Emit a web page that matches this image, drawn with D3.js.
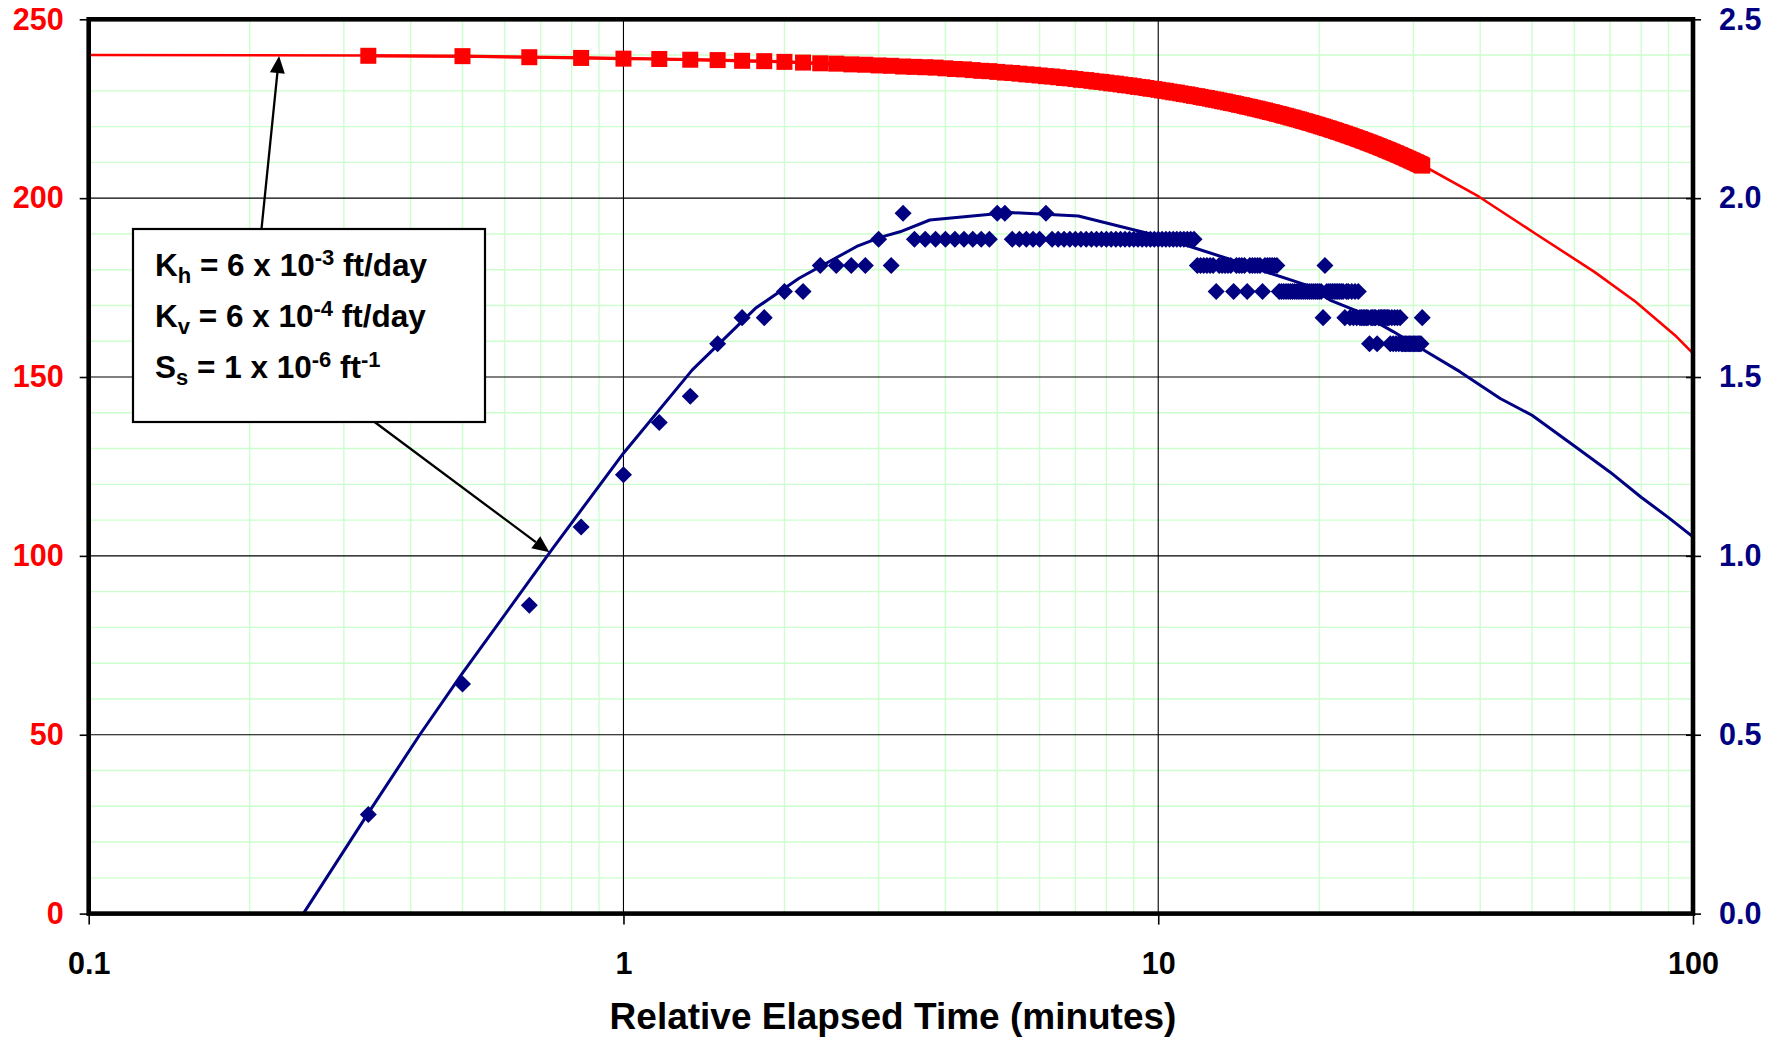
<!DOCTYPE html>
<html><head><meta charset="utf-8">
<script src="https://cdn.jsdelivr.net/npm/d3@7"></script>
<style>
html,body{margin:0;padding:0;background:#fff;}
svg{display:block;font-family:"Liberation Sans",Arial,Helvetica,sans-serif;font-weight:bold;}
</style>
</head><body>
<svg id="chart" width="1784" height="1037"></svg>
<script>
// ---------------- DATA ----------------
// Elapsed time of each measurement (seconds); plotted in minutes
const elapsedSeconds = [
 20,30,40,50,60,70,80,90,100,110,120,130,140,150,160,170,180,190,200,210,
 220,230,240,250,260,270,280,290,300,310,320,330,340,350,360,370,380,390,400,410,
 420,430,440,450,460,470,480,490,500,510,520,530,540,550,560,570,580,590,600,610,
 620,630,640,650,660,670,680,690,700,710,720,730,740,750,760,770,780,790,800,810,
 820,830,840,850,860,870,880,890,900,910,920,930,940,950,960,970,980,990,1000,1010,
 1020,1030,1040,1050,1060,1070,1080,1090,1100,1110,1120,1130,1140,1150,1160,1170,1180,1190,1200,1210,
 1220,1230,1240,1250,1260,1270,1280,1290,1300,1310,1320,1330,1340,1350,1360,1370,1380,1390,1400,1410,
 1420,1430,1440,1450,1460,1470,1480,1490,1500,1510,1520,1530,1540,1550,1560,1570,1580,1590,1600,1610,
 1620,1630,1640,1650,1660,1670,1680,1690,1700,1710,1720,1730,1740,1750,1760,1770,1780,1790,1800,1810,
 1820,1830,1840,1850,1860,1870
];
// Red squares (left axis)
const redSeries = [
 239.8,239.7,239.4,239.2,239.0,238.9,238.7,238.6,238.4,238.3,238.1,237.9,237.7,237.6,237.4,237.3,237.1,237.0,236.8,236.7,
 236.6,236.5,236.3,236.1,236.0,235.8,235.6,235.5,235.3,235.1,235.0,234.8,234.6,234.5,234.3,234.1,234.0,233.8,233.6,233.5,
 233.3,233.1,233.0,232.8,232.6,232.5,232.3,232.1,232.0,231.8,231.6,231.5,231.3,231.1,231.0,230.8,230.6,230.5,230.3,230.1,
 230.0,229.8,229.6,229.5,229.3,229.1,229.0,228.8,228.6,228.5,228.3,228.1,228.0,227.8,227.6,227.5,227.3,227.1,227.0,226.8,
 226.6,226.5,226.3,226.1,226.0,225.8,225.6,225.5,225.3,225.1,225.0,224.8,224.6,224.5,224.3,224.1,224.0,223.8,223.6,223.5,
 223.3,223.1,223.0,222.8,222.6,222.5,222.3,222.1,222.0,221.8,221.6,221.5,221.3,221.1,221.0,220.8,220.6,220.5,220.3,220.1,
 220.0,219.8,219.6,219.5,219.3,219.1,219.0,218.8,218.6,218.5,218.3,218.1,218.0,217.8,217.6,217.5,217.3,217.1,217.0,216.8,
 216.6,216.5,216.3,216.1,216.0,215.8,215.6,215.5,215.3,215.1,215.0,214.8,214.6,214.5,214.3,214.1,214.0,213.8,213.6,213.5,
 213.3,213.1,213.0,212.8,212.6,212.5,212.3,212.1,212.0,211.8,211.6,211.5,211.3,211.1,211.0,210.8,210.6,210.5,210.3,210.1,
 210.0,209.8,209.6,209.5,209.3,209.1
];
// Navy diamonds (right axis)
const blueSeries = [
 0.277,0.642,0.862,1.081,1.227,1.373,1.446,1.593,1.666,1.666,1.739,1.739,1.812,1.812,1.812,1.812,1.885,1.812,1.958,1.885,
 1.885,1.885,1.885,1.885,1.885,1.885,1.885,1.885,1.958,1.958,1.885,1.885,1.885,1.885,1.885,1.958,1.885,1.885,1.885,1.885,
 1.885,1.885,1.885,1.885,1.885,1.885,1.885,1.885,1.885,1.885,1.885,1.885,1.885,1.885,1.885,1.885,1.885,1.885,1.885,1.885,
 1.885,1.885,1.885,1.885,1.885,1.885,1.885,1.885,1.885,1.812,1.812,1.812,1.812,1.812,1.812,1.739,1.812,1.812,1.812,1.812,
 1.812,1.739,1.812,1.812,1.812,1.812,1.739,1.812,1.812,1.812,1.812,1.812,1.739,1.812,1.812,1.812,1.812,1.812,1.812,1.739,
 1.739,1.739,1.739,1.739,1.739,1.739,1.739,1.739,1.739,1.739,1.739,1.739,1.739,1.739,1.739,1.739,1.739,1.739,1.739,1.739,
 1.666,1.812,1.739,1.739,1.739,1.739,1.739,1.739,1.739,1.739,1.739,1.739,1.666,1.739,1.739,1.666,1.739,1.666,1.739,1.666,
 1.739,1.666,1.666,1.666,1.666,1.666,1.666,1.593,1.666,1.666,1.666,1.666,1.593,1.666,1.666,1.666,1.666,1.666,1.666,1.666,
 1.666,1.593,1.666,1.593,1.666,1.593,1.666,1.593,1.666,1.593,1.593,1.593,1.593,1.593,1.593,1.593,1.593,1.593,1.593,1.593,
 1.593,1.593,1.593,1.593,1.593,1.666
];
// Model curves
const redModelTimes  = [0.1, 0.333, 1, 2, 5, 10, 20, 31.2, 39.8, 50.6, 65.4, 78, 93.1, 100];
const redModelValues = [240.0, 239.9, 239.1, 238.1, 235.2, 230.3, 220.3, 209.2, 200.4, 190.2, 179.4, 171.1, 161.3, 156.6];
const blueModelTimes  = [0.252, 0.333, 0.416, 0.5, 0.734, 1.0, 1.345, 1.765, 2.13, 2.73, 3.03, 3.29, 3.74, 4.92, 5.28, 7.09, 9.55, 11.47, 13.42, 16.18, 18.94, 20.94, 23.5, 27.5, 31.3, 36.65, 43.6, 50, 60, 70, 80, 90, 100];
const blueModelValues = [0, 0.28, 0.50, 0.672, 1.017, 1.287, 1.52, 1.692, 1.776, 1.865, 1.891, 1.906, 1.939, 1.956, 1.960, 1.950, 1.902, 1.865, 1.832, 1.790, 1.757, 1.715, 1.685, 1.627, 1.576, 1.515, 1.44, 1.393, 1.307, 1.234, 1.164, 1.107, 1.053];
// Axes
const xTickValues = [0.1, 1, 10, 100];
const xTickLabels = ["0.1", "1", "10", "100"];
const leftTickValues = [0, 50, 100, 150, 200, 250];
const leftTickLabels = ["0", "50", "100", "150", "200", "250"];
const rightTickValues = [0, 0.5, 1.0, 1.5, 2.0, 2.5];
const rightTickLabels = ["0.0", "0.5", "1.0", "1.5", "2.0", "2.5"];
const xTitle = "Relative Elapsed Time (minutes)";
const noteLines = [
  [["K",""],["h","sub"],[" = 6 x 10",""],["-3","sup"],[" ft/day",""]],
  [["K",""],["v","sub"],[" = 6 x 10",""],["-4","sup"],[" ft/day",""]],
  [["S",""],["s","sub"],[" = 1 x 10",""],["-6","sup"],[" ft",""],["-1","sup"]]
];

// ---------------- LAYOUT ----------------
const RED = "#FF0000", NAVY = "#000080", MINOR = "#CCFFCC";
const L = 88.7, R = 1693, T = 19.3, B = 913.6;
const svg = d3.select("#chart");
const x = d3.scaleLog().domain([0.1, 100]).range([L, R]);
const yL = d3.scaleLinear().domain([0, 250]).range([B, T]);
const yR = d3.scaleLinear().domain([0, 2.5]).range([B, T]);

const grid = svg.append("g");
// minor grid
x.ticks().filter(v => ![0.1,1,10,100].some(d => Math.abs(d - v) < 1e-9)).forEach(v => {
  grid.append("line").attr("x1", x(v)).attr("x2", x(v)).attr("y1", T).attr("y2", B)
    .attr("stroke", MINOR).attr("stroke-width", 1.4);
});
d3.range(10, 250, 10).filter(v => v % 50 !== 0).forEach(v => {
  grid.append("line").attr("x1", L).attr("x2", R).attr("y1", yL(v)).attr("y2", yL(v))
    .attr("stroke", MINOR).attr("stroke-width", 1.4);
});
// major grid
[1, 10].forEach(v => {
  grid.append("line").attr("x1", x(v)).attr("x2", x(v)).attr("y1", T).attr("y2", B)
    .attr("stroke", "#000").attr("stroke-width", 1.1);
});
[50, 100, 150, 200].forEach(v => {
  grid.append("line").attr("x1", L).attr("x2", R).attr("y1", yL(v)).attr("y2", yL(v))
    .attr("stroke", "#000").attr("stroke-width", 1.1);
});

const plot = svg.append("g");
const tMin = elapsedSeconds.map(s => s / 60);

// blue model line
const blueModel = blueModelTimes.map((t, i) => [t, blueModelValues[i]]);
plot.append("path").datum(blueModel)
  .attr("d", d3.line().x(d => x(d[0])).y(d => yR(d[1])))
  .attr("fill", "none").attr("stroke", NAVY).attr("stroke-width", 3).attr("stroke-linejoin", "round");

// blue diamonds
const diamond = d3.symbol().type(d3.symbolSquare).size(145);
plot.selectAll(".dia").data(tMin.map((t, i) => [t, blueSeries[i]])).join("path")
  .attr("transform", d => `translate(${x(d[0])},${yR(d[1])}) rotate(45)`)
  .attr("d", diamond()).attr("fill", NAVY);

// red model line
const redModel = redModelTimes.map((t, i) => [t, redModelValues[i]]);
plot.append("path").datum(redModel)
  .attr("d", d3.line().x(d => x(d[0])).y(d => yL(d[1])))
  .attr("fill", "none").attr("stroke", RED).attr("stroke-width", 2.6).attr("stroke-linejoin", "round");

// red data line + squares
const redData = tMin.map((t, i) => [t, redSeries[i]]);
plot.append("path").datum(redData)
  .attr("d", d3.line().x(d => x(d[0])).y(d => yL(d[1])))
  .attr("fill", "none").attr("stroke", RED).attr("stroke-width", 3.2);
const sq = 16;
plot.selectAll(".sq").data(redData).join("rect")
  .attr("x", d => x(d[0]) - sq / 2).attr("y", d => yL(d[1]) - sq / 2)
  .attr("width", sq).attr("height", sq).attr("fill", RED);

// frame
svg.append("rect").attr("x", L).attr("y", T).attr("width", R - L).attr("height", B - T)
  .attr("fill", "none").attr("stroke", "#000").attr("stroke-width", 4.6);

// axes
const fs = 30.5;
const axL = svg.append("g").attr("transform", `translate(${L},0)`)
  .call(d3.axisLeft(yL).tickValues(leftTickValues).tickFormat((d, i) => leftTickLabels[i]).tickSize(9).tickPadding(16));
axL.select(".domain").remove();
axL.selectAll("line").attr("stroke", "#000").attr("stroke-width", 1.6);
axL.selectAll("text").attr("fill", RED).attr("font-size", fs).attr("font-weight", "bold")
  .attr("font-family", '"Liberation Sans",Arial,sans-serif');

const axR = svg.append("g").attr("transform", `translate(${R},0)`)
  .call(d3.axisRight(yR).tickValues(rightTickValues).tickFormat((d, i) => rightTickLabels[i]).tickSize(7).tickPadding(19));
axR.select(".domain").remove();
axR.selectAll("line").attr("x1", -7).attr("x2", 8).attr("stroke", "#000").attr("stroke-width", 1.6);
axR.selectAll("text").attr("fill", NAVY).attr("font-size", fs).attr("font-weight", "bold")
  .attr("font-family", '"Liberation Sans",Arial,sans-serif');

const axB = svg.append("g").attr("transform", `translate(0,${B})`)
  .call(d3.axisBottom(x).tickValues(xTickValues).tickFormat((d, i) => xTickLabels[i]).tickSize(11).tickPadding(28));
axB.select(".domain").remove();
axB.selectAll("line").attr("stroke", "#000").attr("stroke-width", 1.6);
axB.selectAll("text").attr("fill", "#000").attr("font-size", fs).attr("font-weight", "bold")
  .attr("font-family", '"Liberation Sans",Arial,sans-serif');

svg.append("text").attr("x", 893).attr("y", 1029).attr("text-anchor", "middle")
  .attr("font-size", 37).attr("fill", "#000").text(xTitle);

// annotation arrows
function arrow(x1, y1, x2, y2) {
  const ang = Math.atan2(y2 - y1, x2 - x1), len = 17, hw = 7.5;
  const bx = x2 - len * Math.cos(ang), by = y2 - len * Math.sin(ang);
  svg.append("line").attr("x1", x1).attr("y1", y1).attr("x2", bx).attr("y2", by)
    .attr("stroke", "#000").attr("stroke-width", 2.3);
  const px = -Math.sin(ang) * hw, py = Math.cos(ang) * hw;
  svg.append("path").attr("d", `M${x2},${y2}L${bx + px},${by + py}L${bx - px},${by - py}Z`).attr("fill", "#000");
}
arrow(261.5, 229, x(0.227), yL(240) + 1);
arrow(374.6, 422, x(0.727), yL(101));

// annotation box
svg.append("rect").attr("x", 133).attr("y", 229).attr("width", 352).attr("height", 193)
  .attr("fill", "#fff").attr("stroke", "#000").attr("stroke-width", 2.2);
const base = [276, 327, 378];
noteLines.forEach((parts, li) => {
  const t = svg.append("text").attr("x", 155).attr("y", base[li]).attr("font-size", 31.5)
    .attr("fill", "#000").attr("xml:space", "preserve").style("white-space", "pre");
  let shift = 0;
  parts.forEach(([s, kind]) => {
    const target = kind === "sub" ? 7 : kind === "sup" ? -11 : 0;
    t.append("tspan").attr("dy", target - shift).attr("font-size", kind ? 22 : 31.5).text(s);
    shift = target;
  });
});
</script>
</body></html>
